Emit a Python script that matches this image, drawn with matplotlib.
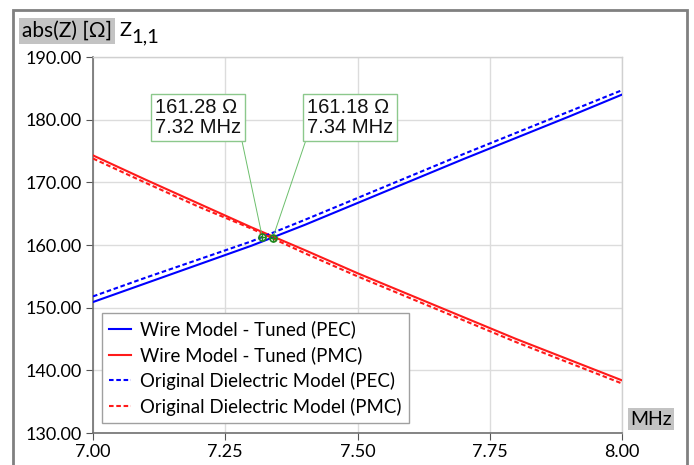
"""
abs(Z) of port Z1,1 versus frequency, wire model vs original dielectric model.
"""
import matplotlib.pyplot as plt
from matplotlib.patches import Rectangle

# Data.
freq = [7.0, 7.1, 7.2, 7.3, 7.4, 7.5, 7.6, 7.7, 7.8, 7.9, 8.0]
wire_pec = [150.9, 153.9, 156.9, 159.9, 163.2, 166.7, 170.2, 173.7, 177.1, 180.5, 184.0]
wire_pmc = [174.3, 170.4, 166.6, 162.8, 159.2, 155.5, 152.0, 148.5, 145.0, 141.7, 138.4]
orig_pec = [151.8, 154.8, 157.7, 160.6, 164.0, 167.5, 171.0, 174.5, 177.9, 181.3, 184.7]
orig_pmc = [173.8, 169.9, 166.1, 162.6, 158.7, 155.0, 151.5, 148.0, 144.5, 141.2, 137.9]
x_ticks = [7.0, 7.25, 7.5, 7.75, 8.0]
y_ticks = [130, 140, 150, 160, 170, 180, 190]

markers_f = [7.32, 7.34]
markers_z = [161.28, 161.18]
marker_labels = ['161.28 \u03a9\n7.32 MHz', '161.18 \u03a9\n7.34 MHz']

plt.rcParams['font.family'] = ['Lato', 'DejaVu Sans']

fig = plt.figure(figsize=(6.94, 4.65), dpi=100)
ax = fig.add_axes([93 / 694, 32 / 465, 529 / 694, 376 / 465])

BLUE = '#0000ff'
RED = '#ff1a1a'
ax.plot(freq, wire_pec, color=BLUE, lw=1.5, label='Wire Model - Tuned (PEC)', zorder=3)
ax.plot(freq, wire_pmc, color=RED, lw=1.5, label='Wire Model - Tuned (PMC)', zorder=3)
ax.plot(freq, orig_pec, color=BLUE, lw=1.5, ls=(0, (2.2, 1.3)),
        label='Original Dielectric Model (PEC)', zorder=3)
ax.plot(freq, orig_pmc, color=RED, lw=1.5, ls=(0, (2.2, 1.3)),
        label='Original Dielectric Model (PMC)', zorder=3)

# Markers with their label boxes.
ax.plot(markers_f, markers_z, ls='none', marker='o', ms=5, mfc='none',
        mec='#1f8a1f', mew=1.2, zorder=5)
ax.plot(markers_f, markers_z, ls='none', marker='+', ms=6, mec='#1f8a1f', mew=1.0, zorder=5)
box_pos = [(155, 465 - 137), (307, 465 - 137)]
rel = [(1, 0), (0, 0)]
for f, z, txt, pos, rp in zip(markers_f, markers_z, marker_labels, box_pos, rel):
    ax.annotate(txt, xy=(f, z), xytext=pos, textcoords='figure pixels',
                ha='left', va='bottom', fontsize=14.5, linespacing=1.05,
                family=['Liberation Sans', 'DejaVu Sans'], color='#111111',
                bbox=dict(boxstyle='square,pad=0.2', fc='white', ec='#8cc88c', lw=1),
                arrowprops=dict(arrowstyle='-', color='#6cbf6c', lw=0.7,
                                relpos=rp, shrinkA=0, shrinkB=3),
                zorder=6)

ax.set_xlim(7.0, 8.0)
ax.set_ylim(130, 190)
ax.set_xticks(x_ticks)
ax.set_xticklabels([f'{t:.2f}' for t in x_ticks])
ax.set_yticks(y_ticks)
ax.set_yticklabels([f'{t:.2f}' for t in y_ticks])
ax.grid(True, color='#dcdcdc', lw=1)
ax.set_axisbelow(True)
ax.tick_params(labelsize=13, length=5, color='#555555', direction='out', pad=3)
for side in ['left', 'bottom']:
    ax.spines[side].set_color('#707070')
    ax.spines[side].set_linewidth(1.2)
for side in ['top', 'right']:
    ax.spines[side].set_color('#d0d0d0')
    ax.spines[side].set_linewidth(1)

leg = ax.legend(loc='upper left', bbox_to_anchor=(0.0164, 0.319), borderaxespad=0,
                fontsize=13.4, handlelength=1.2, handletextpad=0.45, labelspacing=0.42,
                fancybox=False, framealpha=1, edgecolor='#a0a0a0', borderpad=0.4)
leg.get_frame().set_linewidth(1)

# Window frame and header labels.
fig.patches.append(Rectangle((13 / 694, -0.1), 674 / 694, 1.1 - 10 / 465,
                             transform=fig.transFigure, fill=False,
                             ec='#808080', lw=2))
fig.text(22 / 694, 1 - 31 / 465, 'abs(Z) [\u03a9]', fontsize=15, va='center', ha='left',
         bbox=dict(boxstyle='square,pad=0.15', fc='#c3c3c3', ec='none'))
fig.text(119 / 694, 1 - 31 / 465, 'Z', fontsize=14.5, va='center', ha='left')
fig.text(131 / 694, 1 - 37 / 465, '1,1', fontsize=14.5, va='center', ha='left')
fig.text(630 / 694, 1 - 419 / 465, 'MHz', fontsize=14, va='center', ha='left',
         bbox=dict(boxstyle='square,pad=0.12', fc='#c3c3c3', ec='none'))

plt.savefig('out.png', dpi=100)
